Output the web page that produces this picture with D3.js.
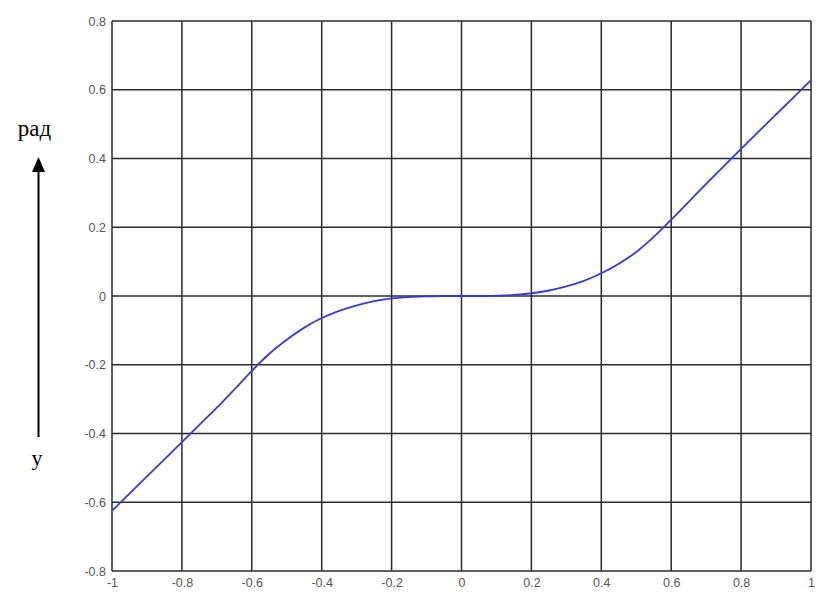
<!DOCTYPE html>
<html><head><meta charset="utf-8">
<script src="https://cdn.jsdelivr.net/npm/d3@7"></script>
<style>body{margin:0;background:#fff}svg{display:block}</style>
</head><body>
<svg id="c" width="826" height="594"></svg>
<script>
const xValues = [-1,-0.95,-0.9,-0.85,-0.8,-0.75,-0.7,-0.65,-0.6,-0.55,-0.5,-0.45,-0.4,-0.35,-0.3,-0.25,-0.2,-0.15,-0.1,-0.05,0,0.05,0.1,0.15,0.2,0.25,0.3,0.35,0.4,0.45,0.5,0.55,0.6,0.65,0.7,0.75,0.8,0.85,0.9,0.95,1];
const yValues = [-0.625,-0.575,-0.525,-0.475,-0.425,-0.375,-0.325,-0.272,-0.218,-0.168,-0.127,-0.092,-0.064,-0.043,-0.027,-0.015,-0.007,-0.003,-0.001,0,0,0,0.001,0.003,0.008,0.016,0.028,0.044,0.066,0.094,0.128,0.172,0.222,0.274,0.326,0.377,0.428,0.478,0.528,0.578,0.628];
const xTicks = [-1,-0.8,-0.6,-0.4,-0.2,0,0.2,0.4,0.6,0.8,1];
const yTicks = [-0.8,-0.6,-0.4,-0.2,0,0.2,0.4,0.6,0.8];
const yUnit = "рад";
const yName = "y";

const svg = d3.select("#c");
const L=112, R=811, T=21, B=571;
const x = d3.scaleLinear().domain([-1,1]).range([L,R]);
const y = d3.scaleLinear().domain([-0.8,0.8]).range([B,T]);
const fmt = d => d===0 ? "0" : String(d);

// grid
const g = svg.append("g");
g.selectAll("line.v").data(xTicks).join("line")
  .attr("x1",d=>x(d)).attr("x2",d=>x(d)).attr("y1",T).attr("y2",B)
  .attr("stroke","#2a2a2a").attr("stroke-width",1.5);
g.selectAll("line.h").data(yTicks).join("line")
  .attr("y1",d=>y(d)).attr("y2",d=>y(d)).attr("x1",L).attr("x2",R)
  .attr("stroke","#2a2a2a").attr("stroke-width",1.5);

// axes labels
const xAxis = d3.axisBottom(x).tickValues(xTicks).tickFormat(fmt).tickSize(0).tickPadding(7);
const yAxis = d3.axisLeft(y).tickValues(yTicks).tickFormat(fmt).tickSize(0).tickPadding(6);
const ga = svg.append("g").attr("transform",`translate(0,${B})`).call(xAxis);
const gb = svg.append("g").attr("transform",`translate(${L},0)`).call(yAxis);
[ga,gb].forEach(a=>{
  a.select(".domain").remove();
  a.selectAll("text").attr("font-family","Arial, 'Liberation Sans', sans-serif").attr("font-size",12.5).attr("fill","#555");
});

// curve
const pts = xValues.map((v,i)=>[v,yValues[i]]);
svg.append("path").datum(pts)
  .attr("d", d3.line().x(d=>x(d[0])).y(d=>y(d[1])).curve(d3.curveMonotoneX))
  .attr("fill","none").attr("stroke","#3a3ad0").attr("stroke-width",1.8);

// left annotation
svg.append("text").attr("x",34.5).attr("y",136).attr("text-anchor","middle")
  .attr("font-family","'Liberation Serif','DejaVu Serif',serif").attr("font-size",23).attr("fill","#000").text(yUnit);
svg.append("line").attr("x1",38.5).attr("x2",38.5).attr("y1",437).attr("y2",170)
  .attr("stroke","#000").attr("stroke-width",2);
svg.append("path").attr("d","M38.5,157 L32,172 L45,172 Z").attr("fill","#000");
svg.append("text").attr("x",37).attr("y",465).attr("text-anchor","middle")
  .attr("font-family","'Liberation Serif','DejaVu Serif',serif").attr("font-size",22).attr("fill","#000").text(yName);
</script>
</body></html>
